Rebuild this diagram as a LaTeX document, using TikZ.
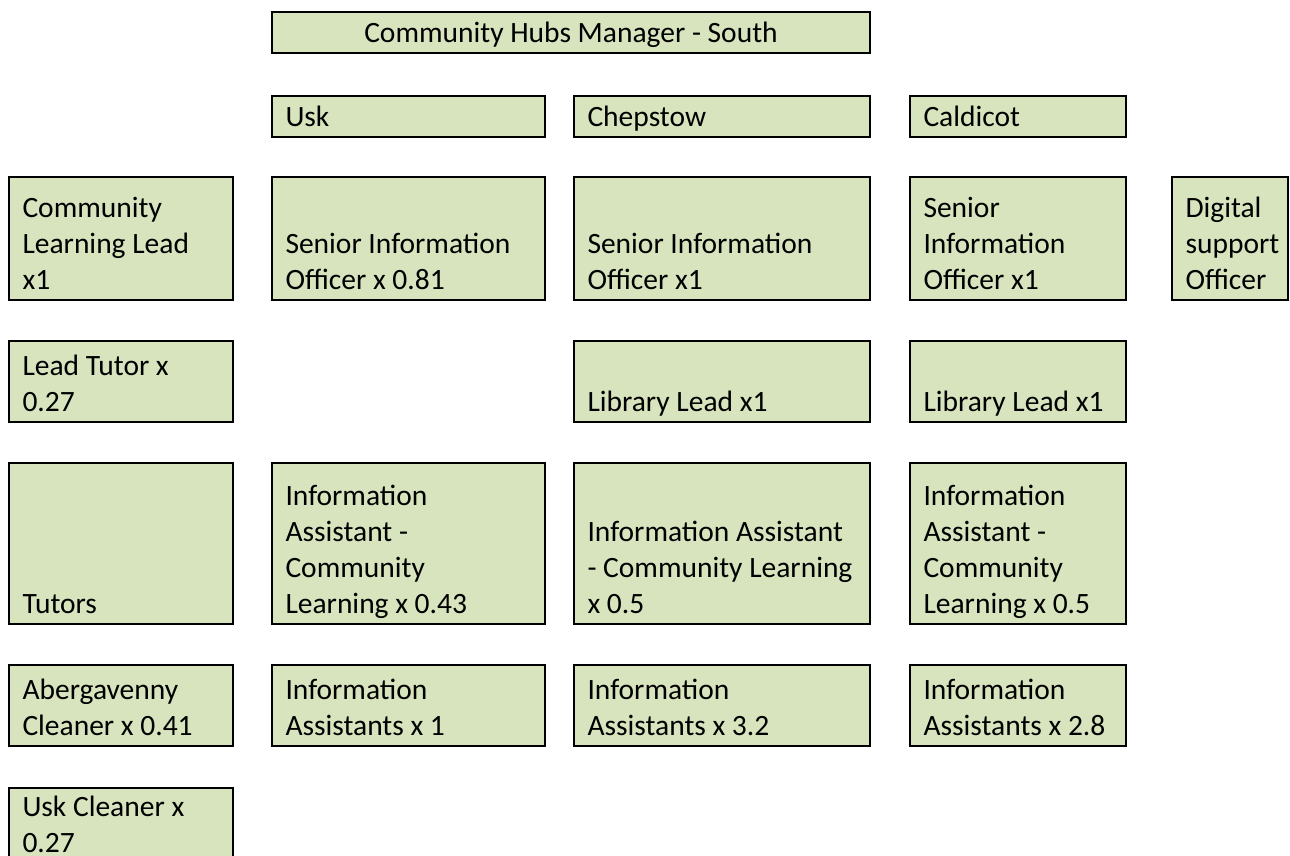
\documentclass[tikz,border=0pt]{standalone}
\usepackage{fontspec}
\setmainfont{Carlito}
\definecolor{cellfill}{HTML}{D7E4BD}
\tikzset{
  cell/.style={draw=black, fill=cellfill, line width=2.2pt, rectangle, inner sep=0pt, outer sep=0pt},
  txt/.style={inner sep=0pt, outer sep=0pt, align=left, font=\fontsize{29.5}{36}\selectfont, text=black}
}
\newcommand{\mkcell}[6]{%
  \node[cell, minimum width={(#4-#2)*1pt}, minimum height={(#5-#3)*1pt}, anchor=north west] (#1) at (#2pt,-#3pt) {};
  \node[txt, anchor=south west] (#1-t) at ([xshift=13.5pt]#1.south west) {#6\strut};
}
\begin{document}
\begin{tikzpicture}
\useasboundingbox (0,0) rectangle (1290pt,-856pt);
% row 1
\node[cell, minimum width=598pt, minimum height=41pt, anchor=north west] (top) at (272pt,-12pt) {};
\node[txt, anchor=south, align=center] (top-t) at (top.south) {Community Hubs Manager - South\strut};
% row 2
\mkcell{usk}{272}{96}{545}{137}{Usk}
\mkcell{chep}{574}{96}{870}{137}{Chepstow}
\mkcell{cald}{910}{96}{1126}{137}{Caldicot}
% row 3
\mkcell{r3c0}{9}{177}{233}{300}{Community\\Learning Lead\\x1}
\mkcell{r3c1}{272}{177}{545}{300}{Senior Information\\Officer x 0.81}
\mkcell{r3c2}{574}{177}{870}{300}{Senior Information\\Officer x1}
\mkcell{r3c3}{910}{177}{1126}{300}{Senior\\Information\\Officer x1}
\mkcell{r3c4}{1172}{177}{1288}{300}{Digital\\support\\Officer}
% row 4
\mkcell{r4c0}{9}{341}{233}{422}{Lead Tutor x\\0.27}
\mkcell{r4c2}{574}{341}{870}{422}{Library Lead x1}
\mkcell{r4c3}{910}{341}{1126}{422}{Library Lead x1}
% row 5
\mkcell{r5c0}{9}{463}{233}{624}{Tutors}
\mkcell{r5c1}{272}{463}{545}{624}{Information\\Assistant -\\Community\\Learning x 0.43}
\mkcell{r5c2}{574}{463}{870}{624}{Information Assistant\\- Community Learning\\x 0.5}
\mkcell{r5c3}{910}{463}{1126}{624}{Information\\Assistant -\\Community\\Learning x 0.5}
% row 6
\mkcell{r6c0}{9}{665}{233}{746}{Abergavenny\\Cleaner x 0.41}
\mkcell{r6c1}{272}{665}{545}{746}{Information\\Assistants x 1}
\mkcell{r6c2}{574}{665}{870}{746}{Information\\Assistants x 3.2}
\mkcell{r6c3}{910}{665}{1126}{746}{Information\\Assistants x 2.8}
% row 7
\mkcell{r7c0}{9}{788}{233}{863}{Usk Cleaner x\\0.27}
\end{tikzpicture}
\end{document}
